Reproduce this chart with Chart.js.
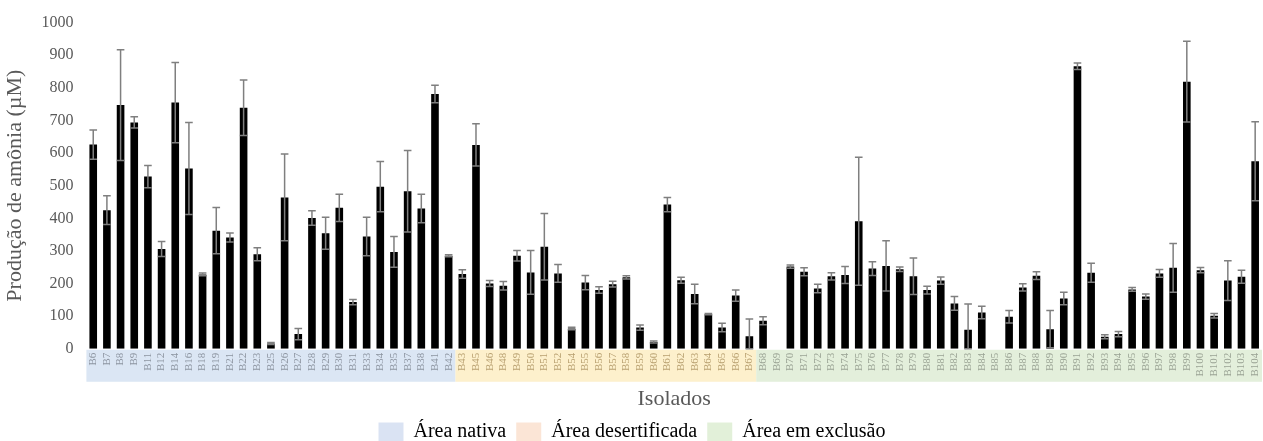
<!DOCTYPE html>
<html>
<head>
<meta charset="utf-8">
<script src="https://cdn.jsdelivr.net/npm/chart.js@4/dist/chart.umd.min.js"></script>
<style>
  html, body { margin: 0; padding: 0; background: #fff; }
  #wrap { width: 1263px; height: 441px; }
</style>
</head>
<body>
<div id="wrap"><canvas id="myChart"></canvas></div>
<script>
// isolates per area
const nativa = ["B6","B7","B8","B9","B11","B12","B14","B16","B18","B19","B21","B22","B23","B25","B26","B27","B28","B29","B30","B31","B33","B34","B35","B37","B38","B41","B42"];
const desertificada = ["B43","B45","B46","B48","B49","B50","B51","B52","B54","B55","B56","B57","B58","B59","B60","B61","B62","B63","B64","B65","B66","B67"];
const exclusao = ["B68","B69","B70","B71","B72","B73","B74","B75","B76","B77","B78","B79","B80","B81","B82","B83","B84","B85","B86","B87","B88","B89","B90","B91","B92","B93","B94","B95","B96","B97","B98","B99","B100","B101","B102","B103","B104"];

const nativaValues = [626,425,747,694,528,306,755,553,228,362,341,739,290,16,464,45,401,354,432,143,344,497,297,483,430,781,285];
const nativaErrors = [45,44,170,17,34,23,123,141,4,71,14,85,20,3,133,17,22,49,42,8,59,77,47,125,44,27,3];

const desertValues = [229,625,200,193,285,234,313,231,62,203,180,198,219,65,21,442,210,168,106,65,163,38];
const desertErrors = [13,65,9,13,16,67,102,27,4,22,10,9,5,8,3,22,9,30,2,13,17,53];

const exclusaoValues = [86,0,252,236,185,222,226,391,246,254,244,222,180,209,139,58,111,0,98,188,224,60,154,866,233,37,45,182,160,231,248,819,241,101,209,221,575];
const exclusaoErrors = [12,0,5,12,13,11,26,196,21,77,7,56,12,11,21,79,19,0,19,11,12,57,19,10,29,6,8,6,8,12,75,124,8,7,61,20,121];

const yTicks = [0,100,200,300,400,500,600,700,800,900,1000];

const areaNames = ["Área nativa", "Área desertificada", "Área em exclusão"];
const areaBand = ["#dbe6f4", "#fdf0cc", "#e3efdb"];
const areaLegend = ["#dae3f3", "#fbe5d6", "#e2f0d9"];
const areaText = ["#8c94a0", "#b8a070", "#9aa394"];

const labels = nativa.concat(desertificada, exclusao);
const values = nativaValues.concat(desertValues, exclusaoValues);
const errors = nativaErrors.concat(desertErrors, exclusaoErrors);
const groups = [nativa, desertificada, exclusao];

function areaOf(i) {
  if (i < nativa.length) return 0;
  if (i < nativa.length + desertificada.length) return 1;
  return 2;
}

const serif = "'Liberation Serif', 'DejaVu Serif', serif";

// coloured band behind the x labels
const bandPlugin = {
  id: 'band',
  beforeDraw(chart) {
    const ctx = chart.ctx;
    const x = chart.scales.x;
    const top = chart.chartArea.bottom + 1;
    const h = 32;
    let start = 0;
    groups.forEach((g, k) => {
      const first = start, last = start + g.length - 1;
      const half = (x.getPixelForValue(1) - x.getPixelForValue(0)) / 2;
      const x0 = x.getPixelForValue(first) - half;
      const x1 = x.getPixelForValue(last) + half;
      ctx.save();
      ctx.fillStyle = areaBand[k];
      ctx.fillRect(x0, top, x1 - x0, h);
      ctx.restore();
      start += g.length;
    });
  }
};

// error bars
const errorPlugin = {
  id: 'errbars',
  afterDatasetsDraw(chart) {
    const ctx = chart.ctx;
    const y = chart.scales.y;
    const meta = chart.getDatasetMeta(0);
    ctx.save();
    ctx.strokeStyle = '#7f7f7f';
    ctx.lineWidth = 1.5;
    meta.data.forEach((bar, i) => {
      if (!errors[i]) return;
      const cx = bar.x;
      const hi = y.getPixelForValue(values[i] + errors[i]);
      const lo = y.getPixelForValue(Math.max(0, values[i] - errors[i]));
      const w = bar.width / 2;
      ctx.beginPath();
      ctx.moveTo(cx, hi); ctx.lineTo(cx, lo);
      ctx.moveTo(cx - w, hi); ctx.lineTo(cx + w, hi);
      ctx.moveTo(cx - w, lo); ctx.lineTo(cx + w, lo);
      ctx.stroke();
    });
    ctx.restore();
  }
};

new Chart("myChart", {
  type: "bar",
  data: {
    labels: labels,
    datasets: [{
      data: values,
      backgroundColor: "#000000",
      barPercentage: 0.62,
      categoryPercentage: 0.9
    }]
  },
  options: {
    responsive: true,
    maintainAspectRatio: false,
    animation: false,
    layout: { padding: { top: 8, left: 2, right: 1, bottom: -11 } },
    plugins: {
      tooltip: { enabled: false },
      legend: {
        position: 'bottom',
        onClick: null,
        labels: {
          boxWidth: 25,
          boxHeight: 19,
          padding: 10,
          color: '#000000',
          font: { family: serif, size: 20 },
          generateLabels: () => areaNames.map((n, k) => ({
            text: n, fillStyle: areaLegend[k], strokeStyle: areaLegend[k], lineWidth: 0, hidden: false, index: k
          }))
        }
      }
    },
    scales: {
      x: {
        grid: { display: false, drawTicks: false },
        border: { display: false },
        afterFit: (s) => { s.paddingRight = 0; },
        ticks: {
          autoSkip: false,
          minRotation: 90,
          maxRotation: 90,
          padding: 4,
          font: { family: serif, size: 11 },
          color: (c) => areaText[areaOf(c.index)]
        },
        title: {
          display: true,
          text: 'Isolados',
          color: '#595959',
          font: { family: serif, size: 22 },
          padding: { top: 5, bottom: 0 }
        }
      },
      y: {
        min: 0,
        max: 1000,
        afterBuildTicks: (s) => { s.ticks = yTicks.map(v => ({ value: v })); },
        grid: { display: false, drawTicks: false },
        border: { display: false },
        ticks: {
          padding: 13,
          color: '#595959',
          font: { family: serif, size: 16 },
          callback: (v) => String(v)
        },
        title: {
          display: true,
          text: 'Produção de amônia (µM)',
          color: '#595959',
          font: { family: serif, size: 22 },
          padding: { top: 0, bottom: 0 }
        }
      }
    }
  },
  plugins: [bandPlugin, errorPlugin]
});
</script>
</body>
</html>
